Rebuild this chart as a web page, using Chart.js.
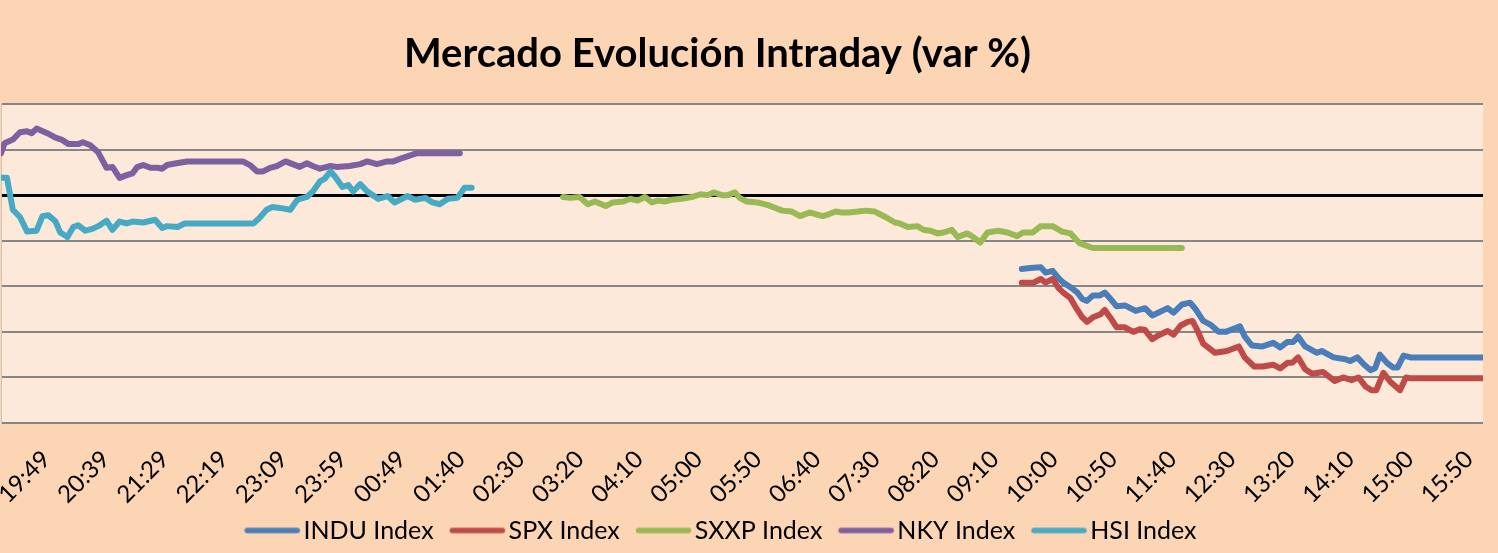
<!DOCTYPE html>
<html>
<head>
<meta charset="utf-8">
<script src="https://cdn.jsdelivr.net/npm/chart.js@4/dist/chart.umd.min.js"></script>
<style>
html,body{margin:0;padding:0;background:#FCD5B4;overflow:hidden;width:1498px;height:553px}
/* the chart's left part (value axis area) lies outside the visible frame, as in the reference crop */
canvas{display:block;margin-left:-48px}
</style>
</head>
<body>
<canvas id="c" width="1546" height="553"></canvas>
<script>
// ---------- data ----------
const chartTitle = 'Mercado Evolución Intraday (var %)';
const tickLabels = ['18:59','19:49','20:39','21:29','22:19','23:09','23:59','00:49','01:40','02:30','03:20','04:10','05:00',
  '05:50','06:40','07:30','08:20','09:10','10:00','10:50','11:40','12:30','13:20','14:10','15:00','15:50'];
const seriesNames = ['INDU Index','SPX Index','SXXP Index','NKY Index','HSI Index'];
const seriesColors = ['#4A7EBB','#BE4B48','#98B954','#7D60A0','#46AAC5'];

// position of each reading on the category axis (one category per time stamp) and its value (%)
const induIdx = [861,868,877,881,887,892,896,902,908,912,916,921,927,931,936,941,948,957,965,971,976,984,989,996,1003,
  1007,1014,1020,1027,1033,1045,1049,1055,1064,1073,1079,1085,1090,1094,1100,1110,1114,1124,1134,1138,1144,1149,1155,
  1159,1163,1169,1174,1178,1183,1189,1250];
const induVal = [-0.81,-0.80,-0.79,-0.85,-0.83,-0.91,-0.96,-1.01,-1.07,-1.14,-1.16,-1.10,-1.10,-1.07,-1.14,-1.22,-1.21,
  -1.27,-1.24,-1.32,-1.29,-1.24,-1.29,-1.20,-1.18,-1.24,-1.38,-1.42,-1.50,-1.50,-1.44,-1.55,-1.65,-1.66,-1.62,-1.67,
  -1.61,-1.61,-1.55,-1.66,-1.73,-1.71,-1.78,-1.80,-1.82,-1.78,-1.85,-1.92,-1.90,-1.75,-1.84,-1.89,-1.89,-1.76,-1.78,-1.78];

const spxIdx = [861,871,877,881,887,892,896,902,906,912,916,921,927,931,936,941,948,955,961,965,971,976,984,989,995,
  1001,1005,1009,1014,1024,1034,1044,1049,1057,1064,1073,1079,1085,1089,1094,1100,1106,1115,1125,1132,1139,1145,1151,
  1156,1160,1166,1172,1180,1185,1189,1250];
const spxVal = [-0.96,-0.96,-0.92,-0.96,-0.92,-1.02,-1.07,-1.13,-1.22,-1.34,-1.39,-1.34,-1.31,-1.26,-1.35,-1.45,-1.45,
  -1.50,-1.47,-1.48,-1.58,-1.54,-1.49,-1.53,-1.43,-1.39,-1.38,-1.48,-1.63,-1.73,-1.71,-1.66,-1.78,-1.88,-1.88,-1.86,
  -1.90,-1.84,-1.84,-1.78,-1.91,-1.96,-1.94,-2.04,-2.00,-2.03,-2.00,-2.10,-2.14,-2.14,-1.95,-2.05,-2.14,-2.00,-2.01,-2.01];

const sxxpIdx = [474,480,488,495,501,510,516,525,531,537,543,549,554,560,566,574,583,590,596,601,608,613,619,623,629,
  638,647,651,659,667,674,682,693,698,704,709,715,723,729,737,746,754,758,765,773,778,784,790,795,802,807,815,820,826,
  832,841,849,857,862,870,877,887,895,902,910,921,996];
const sxxpVal = [-0.02,-0.03,-0.02,-0.10,-0.07,-0.12,-0.08,-0.07,-0.04,-0.06,-0.02,-0.08,-0.06,-0.07,-0.05,-0.04,-0.02,
  0.01,0.00,0.03,0.00,0.00,0.03,-0.03,-0.07,-0.08,-0.11,-0.13,-0.17,-0.18,-0.23,-0.19,-0.23,-0.21,-0.18,-0.19,-0.19,
  -0.18,-0.17,-0.18,-0.24,-0.30,-0.31,-0.35,-0.34,-0.38,-0.39,-0.42,-0.41,-0.38,-0.46,-0.42,-0.46,-0.52,-0.41,-0.39,
  -0.41,-0.45,-0.41,-0.41,-0.34,-0.34,-0.40,-0.42,-0.53,-0.58,-0.58];

const nkyIdx = [0,3,10,16,22,26,30,39,46,51,57,65,69,75,82,89,94,100,106,111,115,120,126,132,136,140,148,157,204,210,
  216,221,227,233,240,246,252,258,263,269,278,283,294,303,309,317,326,331,339,351,387];
const nkyVal = [0.46,0.57,0.61,0.69,0.70,0.68,0.73,0.68,0.63,0.61,0.56,0.56,0.58,0.55,0.47,0.30,0.31,0.19,0.22,0.24,
  0.31,0.33,0.30,0.30,0.29,0.33,0.35,0.37,0.37,0.33,0.26,0.26,0.30,0.32,0.37,0.34,0.31,0.35,0.32,0.29,0.32,0.31,0.32,
  0.34,0.37,0.34,0.37,0.37,0.41,0.46,0.46];

const hsiIdx = [0,5,10,16,22,30,35,40,46,50,56,61,65,71,77,82,89,94,100,106,111,120,130,136,140,149,155,213,218,224,
  229,235,244,250,258,263,269,273,278,282,288,293,297,303,309,318,326,332,343,349,358,364,370,377,385,391,397];
const hsiVal = [0.19,0.19,-0.16,-0.24,-0.40,-0.39,-0.23,-0.22,-0.29,-0.41,-0.46,-0.35,-0.33,-0.39,-0.37,-0.34,-0.28,
  -0.38,-0.29,-0.31,-0.29,-0.30,-0.27,-0.36,-0.34,-0.35,-0.31,-0.31,-0.25,-0.16,-0.13,-0.14,-0.16,-0.05,-0.02,0.04,
  0.15,0.18,0.26,0.20,0.09,0.11,0.04,0.12,0.04,-0.04,-0.01,-0.08,-0.01,-0.05,-0.03,-0.08,-0.10,-0.04,-0.03,0.08,0.08];

const categoriesPerLabel = 50;
const lastCategory = 1250;
const yMin = -2.5, yMax = 1, yStep = 0.5;

// ---------- chart ----------
const seriesIdx = [induIdx, spxIdx, sxxpIdx, nkyIdx, hsiIdx];
const seriesVal = [induVal, spxVal, sxxpVal, nkyVal, hsiVal];

// legend swatch: transparent left margin, then a 56px rounded line
function makeSwatch(color) {
  const c = document.createElement('canvas');
  c.width = 72; c.height = 8;
  const g = c.getContext('2d');
  g.strokeStyle = color; g.lineWidth = 5.5; g.lineCap = 'round';
  g.beginPath(); g.moveTo(18.5, 4); g.lineTo(68.5, 4); g.stroke();
  return c;
}
const swatches = seriesColors.map(makeSwatch);

const plotBg = {
  id: 'plotBg',
  beforeDraw(chart) {
    const {ctx, chartArea: a} = chart;
    ctx.save();
    ctx.fillStyle = '#FDE9D9';
    ctx.fillRect(a.left, a.top, a.right - a.left, a.bottom - a.top);
    ctx.restore();
  }
};

const datasets = seriesNames.map((name, s) => ({
  label: name,
  data: seriesIdx[s].map((x, i) => ({x, y: seriesVal[s][i]})),
  borderColor: seriesColors[s],
  backgroundColor: seriesColors[s],
  borderWidth: 6,
  pointRadius: 0,
  pointHoverRadius: 0,
  tension: 0,
  fill: false,
  borderJoinStyle: 'round',
  borderCapStyle: 'round',
  order: seriesNames.length - s
}));

new Chart(document.getElementById('c'), {
  type: 'line',
  data: {datasets},
  plugins: [plotBg],
  options: {
    responsive: false,
    animation: false,
    events: [],
    layout: {padding: {top: 8, left: 0, right: 15, bottom: 0}},
    scales: {
      x: {
        type: 'linear',
        min: 0,
        max: lastCategory,
        grid: {display: false, drawTicks: false},
        border: {display: false},
        ticks: {
          stepSize: categoriesPerLabel,
          autoSkip: false,
          minRotation: 45,
          maxRotation: 45,
          padding: 22,
          labelOffset: -14,
          color: '#000',
          font: {family: 'Lato', size: 24},
          callback: (v) => tickLabels[Math.round(v / categoriesPerLabel)]
        },
        afterFit(scale) { scale.height = 85; scale.paddingLeft = 0; scale.paddingRight = 0; }
      },
      y: {
        min: yMin,
        max: yMax,
        ticks: {display: false, stepSize: yStep},
        grid: {
          drawTicks: false,
          color: (c) => (c.tick && c.tick.value === 0 ? '#000000' : '#868686'),
          lineWidth: (c) => (c.tick && c.tick.value === 0 ? 3 : 2)
        },
        border: {display: true, color: '#D0C4BA', width: 1},
        afterFit(scale) { scale.width = 49; }
      }
    },
    plugins: {
      title: {
        display: true,
        text: chartTitle,
        color: '#000',
        font: {family: 'Lato', size: 40, weight: 'bold'},
        padding: {top: 22, bottom: 26}
      },
      legend: {
        position: 'bottom',
        labels: {
          usePointStyle: true,
          pointStyleWidth: 52.5,
          boxHeight: 6,
          padding: 10,
          color: '#000',
          font: {family: 'Lato', size: 25},
          sort: (a, b) => a.datasetIndex - b.datasetIndex,
          generateLabels(chart) {
            const items = Chart.defaults.plugins.legend.labels.generateLabels(chart);
            return items.map((it) => Object.assign(it, {pointStyle: swatches[it.datasetIndex], lineWidth: 0}));
          }
        }
      },
      tooltip: {enabled: false}
    }
  }
});
</script>
</body>
</html>
